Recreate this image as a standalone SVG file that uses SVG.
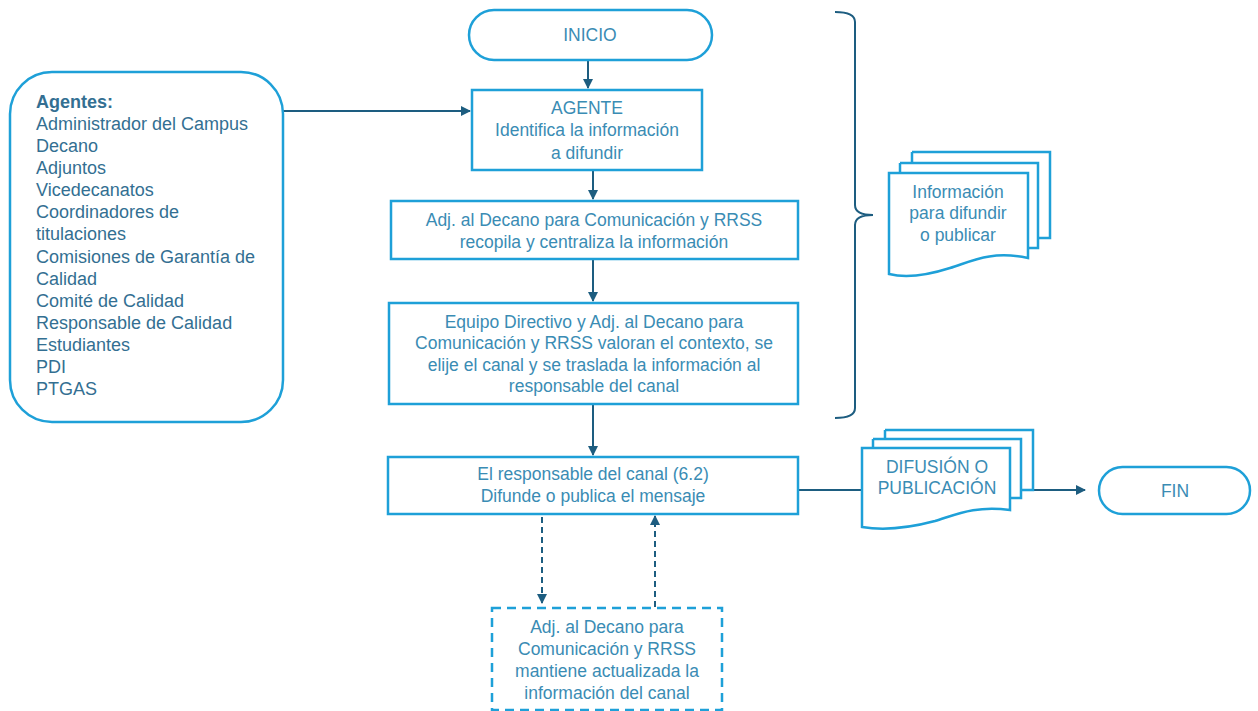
<svg xmlns="http://www.w3.org/2000/svg" width="1258" height="711" viewBox="0 0 1258 711">
<defs>
<style>
.box{fill:#fff;stroke:#1ea0d8;stroke-width:2.5}
.dash{fill:#fff;stroke:#1ea0d8;stroke-width:2.5;stroke-dasharray:9 6}
.t{font-family:"Liberation Sans",Arial,sans-serif;font-size:17.5px;fill:#3a8cb4;text-anchor:middle}
.a{font-family:"Liberation Sans",Arial,sans-serif;font-size:18px;fill:#336f92}
.con{fill:none;stroke:#1d5d80;stroke-width:2}
.cd{fill:none;stroke:#1d5d80;stroke-width:2;stroke-dasharray:6 4}
</style>
<marker id="ah" viewBox="0 0 10 10" refX="9" refY="5" markerWidth="5" markerHeight="5" orient="auto"><path d="M0,0 L10,5 L0,10 z" fill="#1d5d80"/></marker>
</defs>
<rect width="1258" height="711" fill="#fff"/>
<g id="connectors">
<line class="con" x1="588" y1="60" x2="588" y2="88" marker-end="url(#ah)"/>
<line class="con" x1="283" y1="111" x2="470" y2="111" marker-end="url(#ah)"/>
<line class="con" x1="593" y1="170" x2="593" y2="199" marker-end="url(#ah)"/>
<line class="con" x1="593" y1="259" x2="593" y2="301" marker-end="url(#ah)"/>
<line class="con" x1="593" y1="404" x2="593" y2="455" marker-end="url(#ah)"/>
<line class="con" x1="798" y1="490" x2="862" y2="490"/>
<line class="con" x1="1033" y1="490" x2="1085" y2="490" marker-end="url(#ah)"/>
<line class="cd" x1="542" y1="517" x2="542" y2="603" marker-end="url(#ah)"/>
<line class="cd" x1="655" y1="607" x2="655" y2="516" marker-end="url(#ah)"/>
<path class="con" d="M835,12 Q855,12 855,22 L855,205 Q855,215 873,215 Q855,215 855,225 L855,408 Q855,418 835,418"/>
</g>
<g id="agentes">
<rect class="box" x="10" y="72" width="273" height="350" rx="42"/>
<text class="a" x="36" y="108" font-weight="bold" fill="#2c5f80">Agentes:</text>
<text class="a" x="36" y="130">Administrador del Campus</text>
<text class="a" x="36" y="152">Decano</text>
<text class="a" x="36" y="174">Adjuntos</text>
<text class="a" x="36" y="196">Vicedecanatos</text>
<text class="a" x="36" y="218">Coordinadores de</text>
<text class="a" x="36" y="240">titulaciones</text>
<text class="a" x="36" y="263">Comisiones de Garantía de</text>
<text class="a" x="36" y="285">Calidad</text>
<text class="a" x="36" y="307">Comité de Calidad</text>
<text class="a" x="36" y="329">Responsable de Calidad</text>
<text class="a" x="36" y="351">Estudiantes</text>
<text class="a" x="36" y="373">PDI</text>
<text class="a" x="36" y="395">PTGAS</text>
</g>
<g id="inicio">
<rect class="box" x="469" y="10" width="243" height="50" rx="25"/>
<text class="t" x="590" y="41">INICIO</text>
</g>
<g id="agente">
<rect class="box" x="472" y="90" width="230" height="80"/>
<text class="t" x="587" y="114">AGENTE</text>
<text class="t" x="587" y="136">Identifica la información</text>
<text class="t" x="587" y="159">a difundir</text>
</g>
<g id="recopila">
<rect class="box" x="391" y="201" width="407" height="58"/>
<text class="t" x="594" y="226">Adj. al Decano para Comunicación y RRSS</text>
<text class="t" x="594" y="248">recopila y centraliza la información</text>
</g>
<g id="valoran">
<rect class="box" x="389" y="303" width="409" height="101"/>
<text class="t" x="594" y="328">Equipo Directivo y Adj. al Decano para</text>
<text class="t" x="594" y="349">Comunicación y RRSS valoran el contexto, se</text>
<text class="t" x="594" y="371">elije el canal y se traslada la información al</text>
<text class="t" x="594" y="392">responsable del canal</text>
</g>
<g id="difunde">
<rect class="box" x="388" y="457" width="410" height="57"/>
<text class="t" x="593" y="480">El responsable del canal (6.2)</text>
<text class="t" x="593" y="502">Difunde o publica el mensaje</text>
</g>
<g id="mantiene">
<rect class="dash" x="492" y="608" width="230" height="102"/>
<text class="t" x="607" y="633">Adj. al Decano para</text>
<text class="t" x="607" y="655">Comunicación y RRSS</text>
<text class="t" x="607" y="677">mantiene actualizada la</text>
<text class="t" x="607" y="699">información del canal</text>
</g>
<g id="info-doc">
<path class="box" d="M912,152 H1050 V238 H1038"/>
<path class="box" d="M912,152 V163"/>
<path class="box" d="M900,163 H1038 V248 H1028"/>
<path class="box" d="M900,163 V173"/>
<path class="box" d="M889,173 H1028 V258 C990,250 970,262 950,268 C925,276 905,278 889,274 Z"/>
<text class="t" x="958" y="198">Información</text>
<text class="t" x="958" y="219">para difundir</text>
<text class="t" x="958" y="241">o publicar</text>
</g>
<g id="difusion-doc">
<path class="box" d="M885,430 H1033 V490 H1021"/>
<path class="box" d="M885,430 V439"/>
<path class="box" d="M873,439 H1021 V498 H1010"/>
<path class="box" d="M873,439 V448"/>
<path class="box" d="M862,448 H1010 V510 C975,505 955,515 935,521 C905,529 880,530 862,527 Z"/>
<text class="t" x="937" y="473">DIFUSIÓN O</text>
<text class="t" x="937" y="494">PUBLICACIÓN</text>
</g>
<g id="fin">
<rect class="box" x="1099" y="467" width="151" height="47" rx="23.5"/>
<text class="t" x="1175" y="497">FIN</text>
</g>
</svg>
